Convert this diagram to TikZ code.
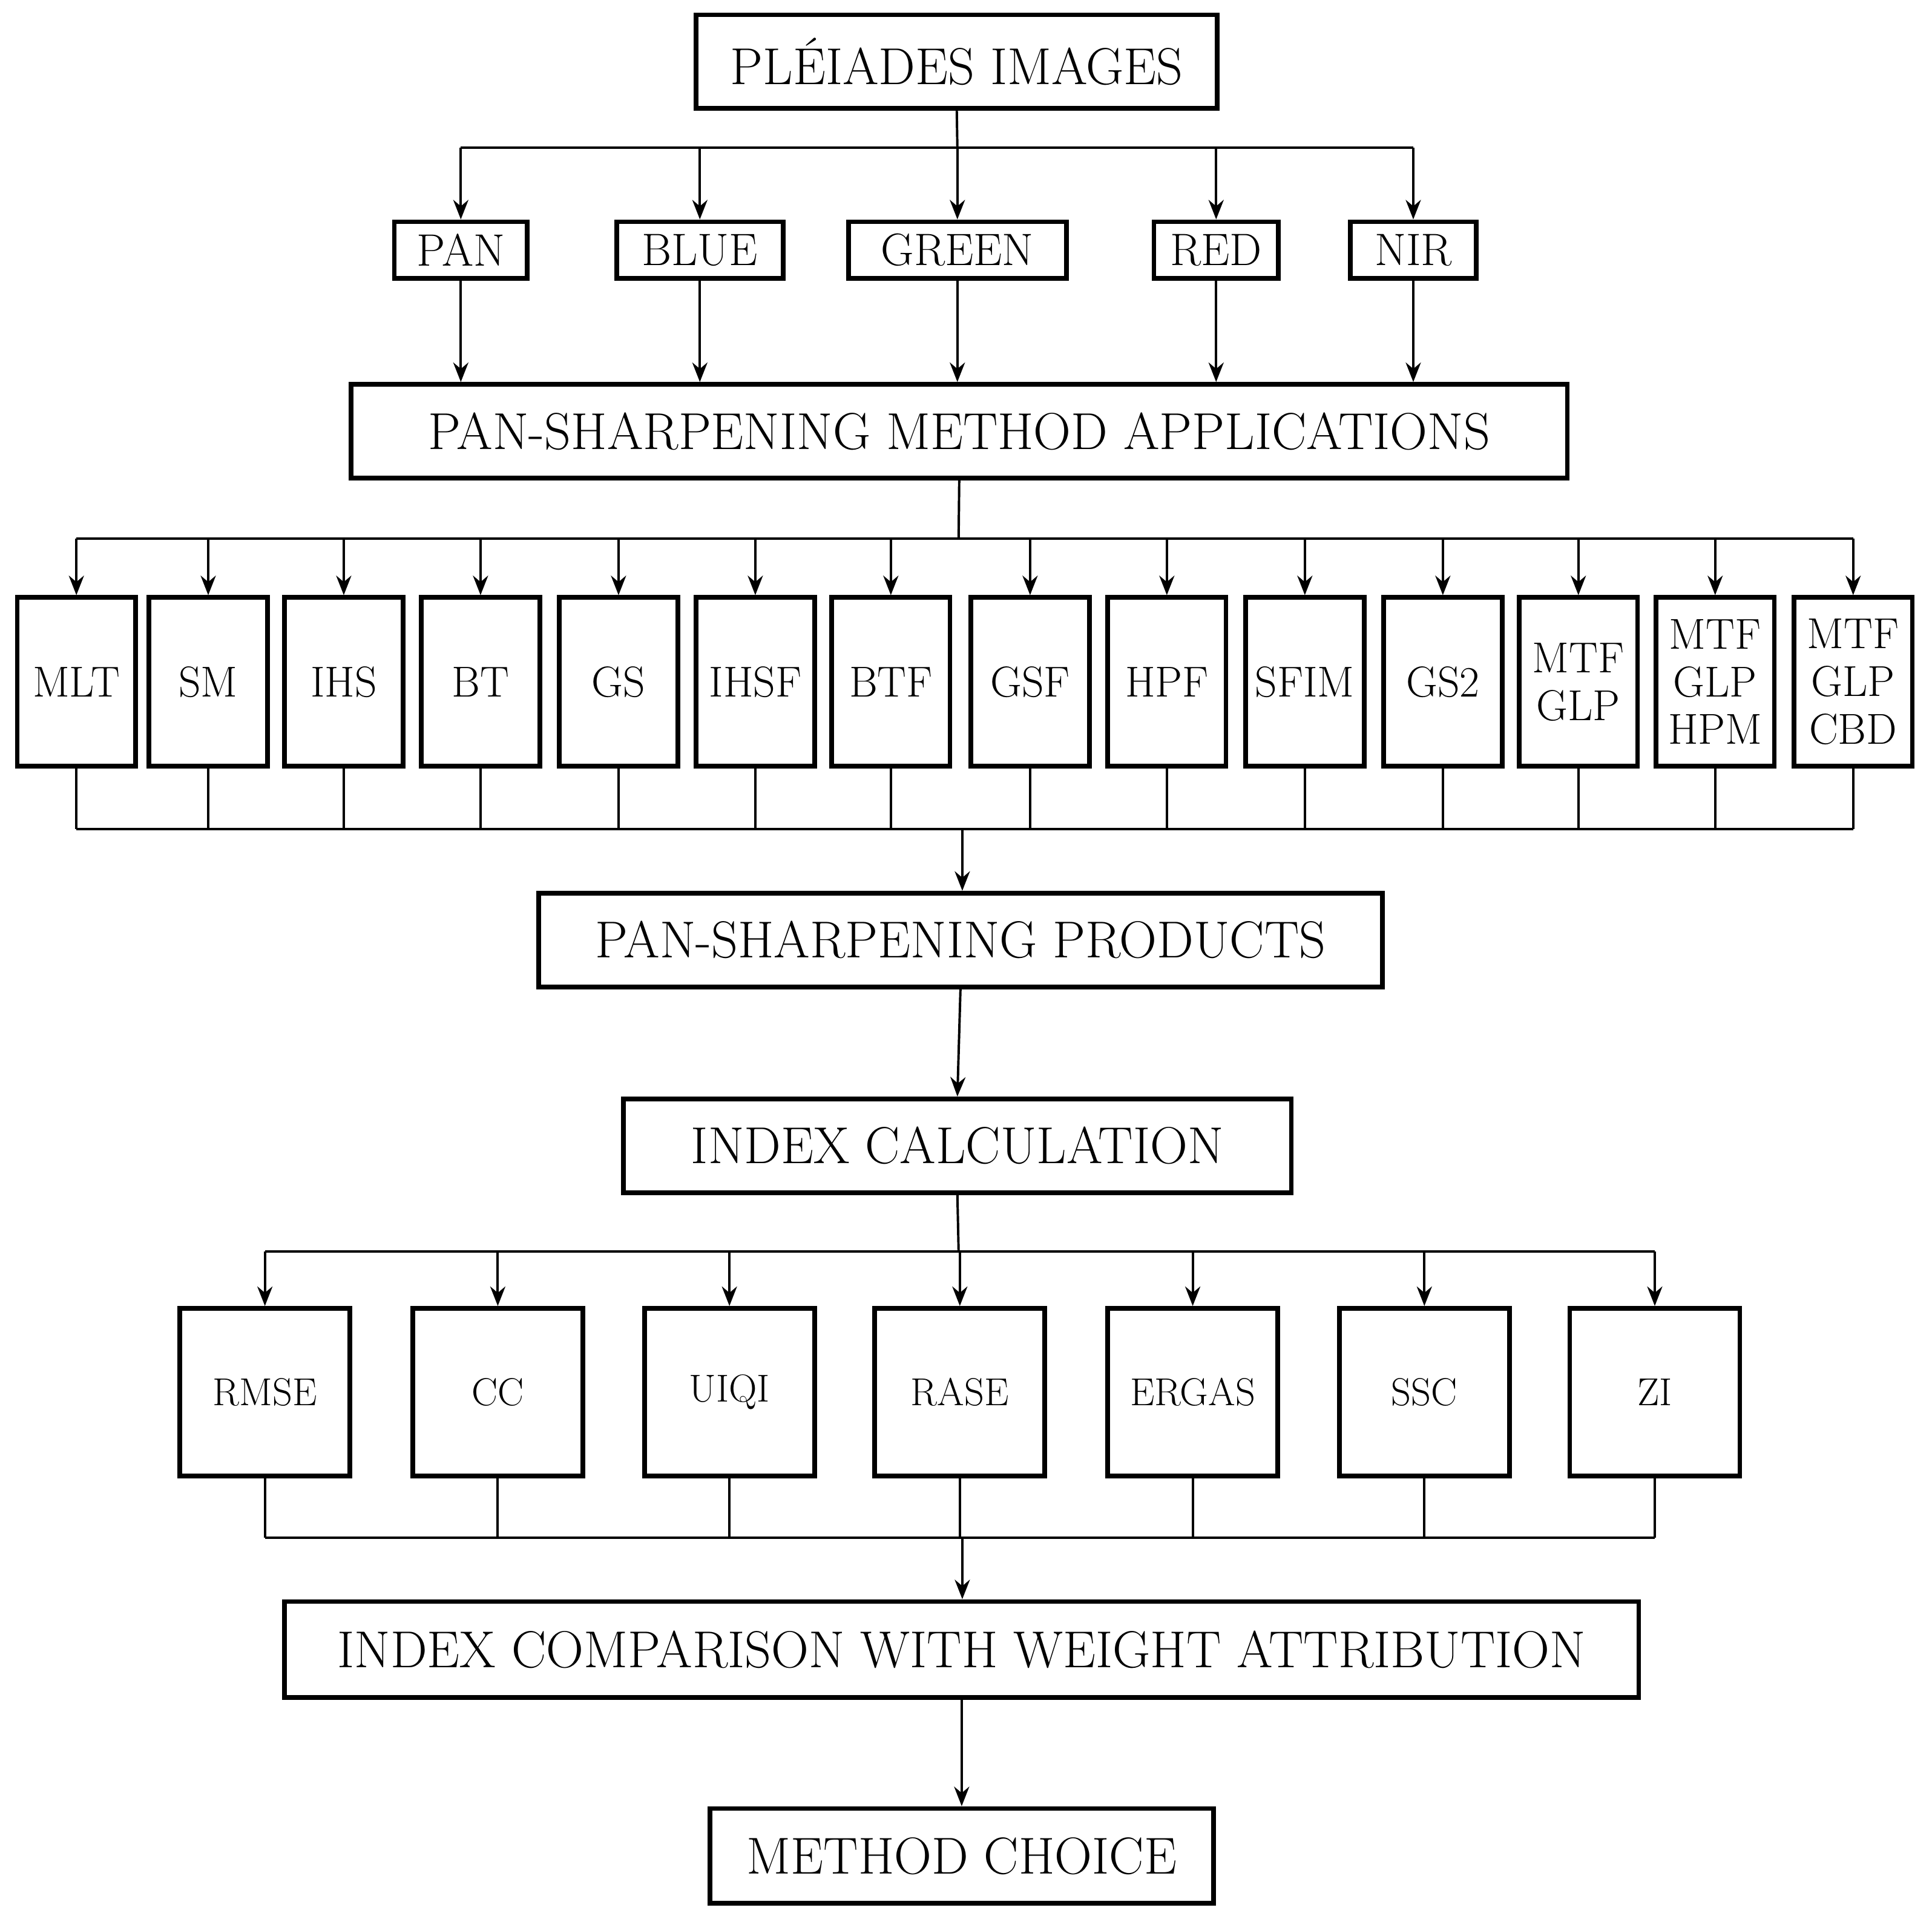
\documentclass[tikz,border=0pt]{standalone}
\usetikzlibrary{arrows.meta}
\begin{document}
\begin{tikzpicture}[x=0.02cm,y=-0.02cm,
 box/.style={draw,line width=2.2pt,inner sep=0pt,align=center},
 big/.style={font=\fontsize{24}{26}\selectfont},
 mid/.style={font=\fontsize{21}{21}\selectfont},
 sml/.style={font=\fontsize{18}{18}\selectfont},
 ln/.style={line width=1.1pt},
 ar/.style={ln,-{Stealth[length=9pt,width=7pt]}}]
\useasboundingbox (0,0) rectangle (1568,1560);
\node[box,big,minimum width=423*0.02cm,minimum height=76*0.02cm] (top) at (776.5,50) {PLÉIADES IMAGES};
\coordinate (j1) at (777,120);
\draw[ln] (top.south) -- (j1);
\draw[ln] (374,120) -- (1147,120);
\foreach \n/\t/\x/\w in {pan/PAN/374/108,blue/BLUE/568/135,green/GREEN/777/177,red/RED/987/101,nir/NIR/1147/102}{
 \node[box,mid,minimum width=\w*0.02cm,minimum height=46*0.02cm] (\n) at (\x,203) {\t};
 \coordinate (c\n) at (\x,120);
 \draw[ar] (c\n) -- (\n.north);
}
\node[box,big,minimum width=987*0.02cm,minimum height=76*0.02cm] (psa) at (778.5,350) {PAN-SHARPENING METHOD APPLICATIONS};
\foreach \n/\x in {pan/374,blue/568,green/777,red/987,nir/1147}{
 \draw[ar] (\n.south) -- (psa.north -| \n.south);
}
\coordinate (j2) at (778,437);
\draw[ln] (psa.south) -- (j2);
\draw[ln] (62,437) -- (1504,437);
\draw[ln] (62,673) -- (1504,673);
\foreach \i/\t/\x in {1/MLT/62,2/SM/169,3/IHS/279,4/BT/390,5/GS/502,6/IHSF/613,7/BTF/723,8/GSF/836,9/HPF/947,10/SFIM/1059,11/GS2/1171,12/{MTF\\GLP}/1281,13/{MTF\\GLP\\HPM}/1392,14/{MTF\\GLP\\CBD}/1504}{
 \node[box,mid,minimum width=96*0.02cm,minimum height=137*0.02cm,font=\fontsize{20}{22}\selectfont] (m\i) at (\x,553.5) {\t};
 \coordinate (t\i) at (\x,437);
 \coordinate (b\i) at (\x,673);
 \draw[ar] (t\i) -- (m\i.north);
 \draw[ln] (m\i.south) -- (b\i);
}
\node[box,big,minimum width=685*0.02cm,minimum height=76*0.02cm] (pp) at (779.5,763) {PAN-SHARPENING PRODUCTS};
\coordinate (j3) at (781,673);
\draw[ar] (j3) -- (j3 |- pp.north);
\node[box,big,minimum width=542*0.02cm,minimum height=76*0.02cm] (ic) at (777,930) {INDEX CALCULATION};
\draw[ar] (pp.south) -- (ic.north);
\coordinate (j4) at (778,1016);
\draw[ln] (ic.south) -- (j4);
\draw[ln] (215,1016) -- (1343,1016);
\draw[ln] (215,1248) -- (1343,1248);
\foreach \i/\t/\x in {1/RMSE/215,2/CC/404,3/UIQI/592,4/RASE/779,5/ERGAS/968,6/SSC/1156,7/ZI/1343}{
 \node[box,sml,minimum width=138*0.02cm,minimum height=136*0.02cm] (x\i) at (\x,1130) {\t};
 \coordinate (u\i) at (\x,1016);
 \coordinate (d\i) at (\x,1248);
 \draw[ar] (u\i) -- (x\i.north);
 \draw[ln] (x\i.south) -- (d\i);
}
\node[box,big,minimum width=1099*0.02cm,minimum height=78*0.02cm] (cmp) at (780.5,1339) {INDEX COMPARISON WITH WEIGHT ATTRIBUTION};
\coordinate (j5) at (781,1248);
\draw[ar] (j5) -- (j5 |- cmp.north);
\node[box,big,minimum width=409*0.02cm,minimum height=77*0.02cm] (mc) at (780.5,1506.5) {METHOD CHOICE};
\draw[ar] (cmp.south) -- (mc.north);
\end{tikzpicture}
\end{document}
